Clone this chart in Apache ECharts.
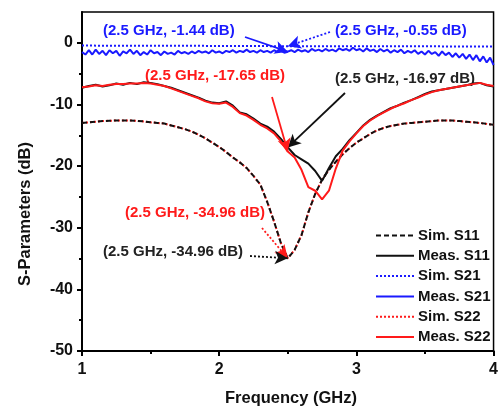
<!DOCTYPE html>
<html>
<head>
<meta charset="utf-8">
<script src="https://cdn.jsdelivr.net/npm/echarts@6/dist/echarts.min.js"></script>
<style>
html,body{margin:0;padding:0;background:#fff;}
#chart{width:501px;height:412px;}
</style>
</head>
<body>
<div id="chart"></div>
<script>
// ---------- DATA ----------
const freq = [1.00,1.05,1.10,1.15,1.20,1.25,1.30,1.35,1.40,1.45,1.50,1.55,1.60,1.65,1.70,1.75,1.80,1.85,1.90,1.95,
  2.00,2.05,2.10,2.15,2.20,2.25,2.30,2.35,2.40,2.45,2.50,2.55,2.60,2.65,2.70,2.75,2.80,2.85,2.90,2.95,
  3.00,3.05,3.10,3.15,3.20,3.25,3.30,3.35,3.40,3.45,3.50,3.55,3.60,3.65,3.70,3.75,3.80,3.85,3.90,3.95,4.00];

const simS11 = [-13.0,-12.9,-12.8,-12.7,-12.65,-12.6,-12.6,-12.6,-12.65,-12.75,-12.9,-13.0,-13.1,-13.4,-13.7,-14.0,-14.4,-14.9,-15.5,-16.2,
  -16.9,-17.7,-18.6,-19.4,-20.3,-21.6,-23.0,-25.8,-29.0,-32.5,-34.96,-33.6,-31.2,-27.5,-24.5,-22.2,-20.6,-19.3,-18.1,-17.1,
  -16.2,-15.5,-14.8,-14.2,-13.8,-13.5,-13.3,-13.1,-13.0,-12.9,-12.8,-12.7,-12.6,-12.6,-12.6,-12.7,-12.8,-12.9,-13.0,-13.15,-13.3];

const simS22 = [-13.0,-12.9,-12.8,-12.7,-12.65,-12.6,-12.6,-12.6,-12.65,-12.75,-12.9,-13.0,-13.1,-13.4,-13.7,-14.0,-14.4,-14.9,-15.5,-16.2,
  -16.9,-17.7,-18.6,-19.4,-20.3,-21.6,-23.0,-25.8,-29.0,-32.5,-34.96,-33.6,-31.2,-27.5,-24.5,-22.2,-20.6,-19.3,-18.1,-17.1,
  -16.2,-15.5,-14.8,-14.2,-13.8,-13.5,-13.3,-13.1,-13.0,-12.9,-12.8,-12.7,-12.6,-12.6,-12.6,-12.7,-12.8,-12.9,-13.0,-13.15,-13.3];

const measS11 = [-7.3,-7.0,-6.8,-7.1,-6.9,-6.6,-6.8,-6.5,-6.7,-6.4,-6.5,-6.7,-7.0,-7.3,-7.7,-8.1,-8.5,-8.9,-9.4,-9.7,
  -9.8,-9.5,-10.2,-11.3,-11.6,-12.3,-13.1,-13.6,-14.4,-15.6,-16.97,-18.2,-18.9,-19.6,-20.8,-22.4,-20.3,-18.4,-17.2,-15.8,
  -14.6,-13.4,-12.5,-11.8,-11.2,-10.6,-10.2,-9.7,-9.3,-8.8,-8.3,-7.9,-7.7,-7.5,-7.3,-7.1,-6.9,-6.6,-6.5,-6.9,-7.1];

const measS22 = [-7.2,-7.1,-6.9,-7.0,-6.8,-6.7,-6.7,-6.6,-6.6,-6.5,-6.6,-6.8,-7.0,-7.4,-7.8,-8.2,-8.6,-9.0,-9.5,-9.8,
  -9.9,-9.7,-10.4,-11.4,-11.8,-12.5,-13.3,-13.9,-14.7,-16.0,-17.65,-18.6,-20.6,-23.4,-24.0,-25.4,-24.0,-20.4,-17.5,-16.0,
  -14.7,-13.5,-12.6,-11.9,-11.3,-10.7,-10.2,-9.8,-9.3,-8.9,-8.4,-8.0,-7.7,-7.5,-7.3,-7.1,-6.9,-6.7,-6.5,-6.8,-7.0];

const freqS21 = [1.000,1.025,1.050,1.075,1.100,1.125,1.150,1.175,1.200,1.225,1.250,1.275,1.300,1.325,1.350,1.375,1.400,1.425,1.450,1.475,
  1.500,1.525,1.550,1.575,1.600,1.625,1.650,1.675,1.700,1.725,1.750,1.775,1.800,1.825,1.850,1.875,1.900,1.925,1.950,1.975,
  2.000,2.025,2.050,2.075,2.100,2.125,2.150,2.175,2.200,2.225,2.250,2.275,2.300,2.325,2.350,2.375,2.400,2.425,2.450,2.475,
  2.500,2.525,2.550,2.575,2.600,2.625,2.650,2.675,2.700,2.725,2.750,2.775,2.800,2.825,2.850,2.875,2.900,2.925,2.950,2.975,
  3.000,3.025,3.050,3.075,3.100,3.125,3.150,3.175,3.200,3.225,3.250,3.275,3.300,3.325,3.350,3.375,3.400,3.425,3.450,3.475,
  3.500,3.525,3.550,3.575,3.600,3.625,3.650,3.675,3.700,3.725,3.750,3.775,3.800,3.825,3.850,3.875,3.900,3.925,3.950,3.975,4.000];

const measS21 = [-1.5,-1.9,-1.2,-1.9,-1.1,-1.8,-1.3,-2.0,-1.2,-1.7,-1.3,-2.1,-1.4,-1.7,-1.1,-1.8,-1.3,-2.0,-1.5,-1.9,
  -1.2,-1.7,-1.5,-2.0,-1.4,-1.8,-1.6,-1.9,-1.3,-1.7,-1.5,-1.8,-1.4,-1.7,-1.3,-1.6,-1.4,-1.7,-1.2,-1.6,
  -1.4,-1.7,-1.3,-1.5,-1.2,-1.6,-1.3,-1.5,-1.1,-1.5,-1.3,-1.6,-1.2,-1.5,-1.3,-1.6,-1.2,-1.5,-1.3,-1.6,
  -1.44,-1.2,-1.5,-1.1,-1.4,-1.2,-1.5,-1.0,-1.3,-1.1,-1.4,-1.0,-1.3,-1.1,-1.4,-0.9,-1.2,-1.0,-1.3,-0.8,
  -1.2,-1.0,-1.4,-0.9,-1.3,-1.1,-1.5,-1.0,-1.4,-1.1,-1.6,-1.2,-1.5,-1.1,-1.7,-1.3,-1.6,-1.2,-1.8,-1.4,
  -1.9,-1.3,-1.8,-1.5,-2.1,-1.4,-2.0,-1.6,-2.3,-1.7,-2.4,-1.8,-2.6,-1.9,-2.8,-2.0,-3.0,-2.2,-3.2,-2.4,-3.6];

const freqSimS21 = [1.0, 1.5, 2.0, 2.5, 3.0, 3.5, 4.0];
const simS21 = [-0.45, -0.48, -0.5, -0.55, -0.55, -0.57, -0.6];

const xTicks = [1, 2, 3, 4];
const yTicks = [-50, -40, -30, -20, -10, 0];

const seriesNames = ['Sim. S11', 'Meas. S11', 'Sim. S21', 'Meas. S21', 'Sim. S22', 'Meas. S22'];

const annoFreq = 2.5;
const annoValues = { measS21: -1.44, simS21: -0.55, measS22: -17.65, measS11: -16.97, simS22: -34.96, simS11: -34.96 };
const fmt = v => '(2.5 GHz, ' + v.toFixed(2) + ' dB)';

// ---------- STYLE ----------
const BLUE = '#1a1aff', RED = '#ff1a1a', BLACK = '#111';
const FONT = '"Liberation Sans", Arial, sans-serif';
const pairs = (xs, ys) => xs.map((x, i) => [x, ys[i]]);

function arrow(start, val, color, type) {
  return {
    silent: true,
    symbol: ['none', 'arrow'],
    symbolSize: [10, 13],
    label: { show: false },
    lineStyle: { color: color, width: 1.8, type: type },
    itemStyle: { color: color },
    emphasis: { disabled: true },
    animation: false,
    data: [[{ x: start[0], y: start[1] }, { coord: [annoFreq, val] }]]
  };
}

const chart = echarts.init(document.getElementById('chart'), null, { renderer: 'canvas' });
const option = {
  animation: false,
  backgroundColor: '#fff',
  grid: { left: 82, right: 1, top: 12, bottom: 61, show: true, borderColor: '#000', borderWidth: 1.5, backgroundColor: 'transparent' },
  xAxis: {
    type: 'value', min: 1, max: 4, interval: 1,
    axisLine: { show: true, onZero: false, lineStyle: { color: '#000', width: 2 } },
    axisTick: { show: true, inside: false, length: 5, lineStyle: { color: '#000', width: 2 } },
    minorTick: { show: true, splitNumber: 2, length: 3, lineStyle: { color: '#000', width: 2 } },
    splitLine: { show: false },
    axisLabel: { color: '#111', fontSize: 16, fontWeight: 'bold', fontFamily: FONT, margin: 11,
      formatter: v => xTicks.includes(v) ? String(v) : '' }
  },
  yAxis: {
    type: 'value', min: -50, max: 5, interval: 10,
    axisLine: { show: true, onZero: false, lineStyle: { color: '#000', width: 2 } },
    axisTick: { show: true, inside: false, length: 5, lineStyle: { color: '#000', width: 2 }, customValues: yTicks },
    minorTick: { show: true, splitNumber: 2, length: 3, lineStyle: { color: '#000', width: 2 } },
    splitLine: { show: false },
    axisLabel: { color: '#111', fontSize: 16, fontWeight: 'bold', fontFamily: FONT, margin: 9,
      customValues: yTicks,
      formatter: v => yTicks.includes(v) ? String(v) : '' }
  },
  legend: {
    orient: 'vertical', left: 375, top: 228, padding: 0, itemGap: 5.3, itemWidth: 38, itemHeight: 14,
    data: seriesNames,
    itemStyle: { opacity: 0 },
    textStyle: { color: '#111', fontSize: 15, fontWeight: 'bold', fontFamily: FONT, padding: [0, 0, 0, -1] },
    selectedMode: false
  },
  series: [
    { name: 'Sim. S22', type: 'line', data: pairs(freq, simS22), showSymbol: false, symbol: 'none', z: 2,
      lineStyle: { color: RED, width: 2, type: [2, 2] }, itemStyle: { color: RED },
      markLine: arrow([262, 228], annoValues.simS22, RED, [2, 2]) },
    { name: 'Sim. S11', type: 'line', data: pairs(freq, simS11), showSymbol: false, symbol: 'none', z: 3,
      lineStyle: { color: BLACK, width: 2, type: [5, 3] }, itemStyle: { color: BLACK },
      markLine: arrow([250, 256], annoValues.simS11, BLACK, [2, 2]) },
    { name: 'Meas. S11', type: 'line', data: pairs(freq, measS11), showSymbol: false, symbol: 'none', z: 4,
      lineStyle: { color: BLACK, width: 2 }, itemStyle: { color: BLACK },
      markLine: arrow([345, 93], annoValues.measS11, BLACK, 'solid') },
    { name: 'Meas. S22', type: 'line', data: pairs(freq, measS22), showSymbol: false, symbol: 'none', z: 5,
      lineStyle: { color: RED, width: 2 }, itemStyle: { color: RED },
      markLine: arrow([272, 97], annoValues.measS22, RED, 'solid') },
    { name: 'Sim. S21', type: 'line', data: pairs(freqSimS21, simS21), showSymbol: false, symbol: 'none', z: 4,
      lineStyle: { color: BLUE, width: 2, type: [2, 2] }, itemStyle: { color: BLUE },
      markLine: arrow([330, 32], annoValues.simS21, BLUE, [2, 2]) },
    { name: 'Meas. S21', type: 'line', data: pairs(freqS21, measS21), showSymbol: false, symbol: 'none', z: 5,
      lineStyle: { color: BLUE, width: 2 }, itemStyle: { color: BLUE },
      markLine: arrow([245, 37], annoValues.measS21, BLUE, 'solid') }
  ],
  graphic: [
    { type: 'text', left: 103, top: 23, silent: true, style: { text: fmt(annoValues.measS21), fill: BLUE, font: 'bold 15px ' + FONT } },
    { type: 'text', left: 335, top: 23, silent: true, style: { text: fmt(annoValues.simS21), fill: BLUE, font: 'bold 15px ' + FONT } },
    { type: 'text', left: 145, top: 68, silent: true, style: { text: fmt(annoValues.measS22), fill: RED, font: 'bold 15px ' + FONT } },
    { type: 'text', left: 335, top: 71, silent: true, style: { text: fmt(annoValues.measS11), fill: '#222', font: 'bold 15px ' + FONT } },
    { type: 'text', left: 125, top: 205, silent: true, style: { text: fmt(annoValues.simS22), fill: RED, font: 'bold 15px ' + FONT } },
    { type: 'text', left: 103, top: 244, silent: true, style: { text: fmt(annoValues.simS11), fill: '#222', font: 'bold 15px ' + FONT } },
    { type: 'text', x: 25, y: 214, rotation: Math.PI / 2, silent: true,
      style: { text: 'S-Parameters (dB)', fill: '#111', font: 'bold 16.5px ' + FONT, align: 'center', verticalAlign: 'middle' } },
    { type: 'text', x: 291, y: 398, silent: true,
      style: { text: 'Frequency (GHz)', fill: '#111', font: 'bold 16.5px ' + FONT, align: 'center', verticalAlign: 'middle' } }
  ]
};
chart.setOption(option);
</script>
</body>
</html>
